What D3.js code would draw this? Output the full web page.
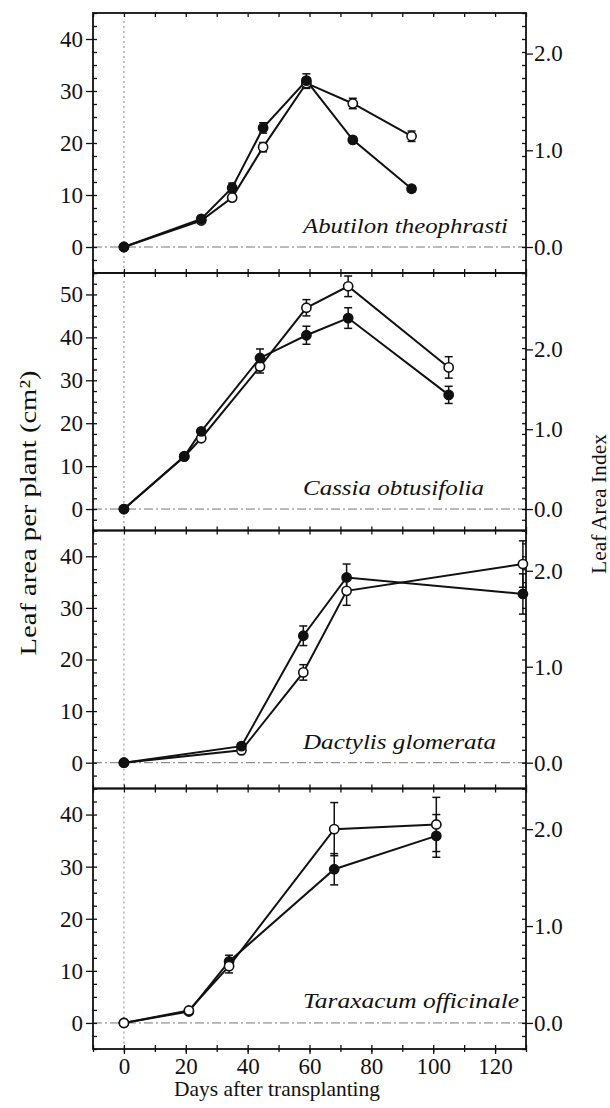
<!DOCTYPE html>
<html><head><meta charset="utf-8">
<script src="https://cdn.jsdelivr.net/npm/d3@7"></script>
<style>
body{margin:0;background:#fff}
text{font-family:"Liberation Serif","Times New Roman",serif;fill:#111}
</style>
</head><body>
<svg id="c" width="610" height="1108"></svg>
<script>
// ---------- data ----------
const species = ["Abutilon theophrasti","Cassia obtusifolia","Dactylis glomerata","Taraxacum officinale"];
const xTicks = [0,20,40,60,80,100,120];
const xLabel = "Days after transplanting";
const yLabelLeft = "Leaf area per plant (cm²)";
const yLabelRight = "Leaf Area Index";
const laiTicks = [0,1,2];
const laiFactor = 18.6; // leaf area units per 1.0 LAI

const abutilonDays      = [0,25,35,45,59,74,93];
const abutilonClosed    = [0,5.4,11.4,22.9,32.0,20.6,11.2];
const abutilonClosedErr = [0,0.5,0.9,1.0,1.3,0.6,0.6];
const abutilonOpen      = [0,5.1,9.5,19.2,31.5,27.6,21.3];
const abutilonOpenErr   = [0,0.4,0.5,0.9,1.0,1.0,1.0];

const cassiaDays      = [0,19.5,25,44,59,72.5,105];
const cassiaClosed    = [0,12.3,18.1,35.2,40.5,44.5,26.6];
const cassiaClosedErr = [0,0.5,0.6,2.1,2.1,2.4,2.0];
const cassiaOpen      = [0,12.2,16.5,33.2,46.9,51.9,33.0];
const cassiaOpenErr   = [0,0.4,0.6,1.5,1.9,2.4,2.5];

const dactylisDays      = [0,38,58,72,129];
const dactylisClosed    = [0,3.2,24.6,35.9,32.7];
const dactylisClosedErr = [0,0.4,1.9,2.6,3.9];
const dactylisOpen      = [0,2.4,17.5,33.3,38.5];
const dactylisOpenErr   = [0,0.3,1.5,2.8,4.5];

const taraxacumDays      = [0,21,34,68,101];
const taraxacumClosed    = [0,2.2,11.8,29.5,35.9];
const taraxacumClosedErr = [0,0.3,1.2,3.0,4.1];
const taraxacumOpen      = [0,2.4,10.9,37.2,38.1];
const taraxacumOpenErr   = [0,0.3,1.3,5.1,5.2];

const yDomains = [[-5,45],[-5,55],[-5,45],[-5,45]];
const yMajorTicks = [[0,10,20,30,40],[0,10,20,30,40,50],[0,10,20,30,40],[0,10,20,30,40]];

// ---------- build ----------
const panels = [
  {days:abutilonDays, closed:abutilonClosed, ce:abutilonClosedErr, open:abutilonOpen, oe:abutilonOpenErr, openTop:false},
  {days:cassiaDays, closed:cassiaClosed, ce:cassiaClosedErr, open:cassiaOpen, oe:cassiaOpenErr, openTop:false},
  {days:dactylisDays, closed:dactylisClosed, ce:dactylisClosedErr, open:dactylisOpen, oe:dactylisOpenErr, openTop:false},
  {days:taraxacumDays, closed:taraxacumClosed, ce:taraxacumClosedErr, open:taraxacumOpen, oe:taraxacumOpenErr, openTop:true}
];
const edges = [13, 273, 530.5, 788.5, 1049];
const xL = 93, xR = 526;
const labelPos = [
  {y:233, len:205},{y:495, len:181},{y:749, len:193},{y:1008, len:216}
];

const svg = d3.select("#c");
const x = d3.scaleLinear().domain([-10,130]).range([xL,xR]);
const fs = 21, tfs = 23;

panels.forEach((p,i)=>{
  const top = edges[i], bot = edges[i+1];
  const y = d3.scaleLinear().domain(yDomains[i]).range([bot, top]);
  const yR = d3.scaleLinear().domain(yDomains[i].map(v=>v/laiFactor)).range([bot, top]);
  const g = svg.append("g");

  // reference lines
  g.append("line").attr("x1",xL).attr("x2",xR).attr("y1",y(0)).attr("y2",y(0))
    .attr("stroke","#777").attr("stroke-width",1).attr("stroke-dasharray","9,3,2,3");
  g.append("line").attr("x1",x(0)).attr("x2",x(0)).attr("y1",top+8).attr("y2",bot)
    .attr("stroke","#888").attr("stroke-width",1).attr("stroke-dasharray","2,3");

  // minor y ticks (every 2.5)
  const minorY = d3.range(yDomains[i][0], yDomains[i][1]+0.01, 2.5);
  const axMinL = g.append("g").attr("transform",`translate(${xL},0)`)
    .call(d3.axisRight(y).tickValues(minorY).tickSize(4).tickFormat(""));
  const axMinR = g.append("g").attr("transform",`translate(${xR},0)`)
    .call(d3.axisLeft(y).tickValues(minorY).tickSize(4).tickFormat(""));
  // major left
  const axL = g.append("g").attr("transform",`translate(${xL},0)`)
    .call(d3.axisLeft(y).tickValues(yMajorTicks[i]).tickSize(7).tickPadding(3).tickFormat(d3.format("d")));
  // right LAI
  const axR = g.append("g").attr("transform",`translate(${xR},0)`)
    .call(d3.axisRight(yR).tickValues(laiTicks).tickSize(7).tickPadding(1).tickFormat(d3.format(".1f")));
  // x ticks on top / bottom edges (inward)
  const minorX = d3.range(-10,131,10);
  const axT = g.append("g").attr("transform",`translate(0,${top})`)
    .call(d3.axisBottom(x).tickValues(minorX).tickSize(4).tickFormat(""));
  const axB = g.append("g").attr("transform",`translate(0,${bot})`)
    .call(d3.axisTop(x).tickValues(minorX).tickSize(4).tickFormat(""));
  const axes = [axMinL,axMinR,axL,axR,axT,axB];
  if(i===panels.length-1){
    const axX = g.append("g").attr("transform",`translate(0,${bot})`)
      .call(d3.axisBottom(x).tickValues(xTicks).tickSize(5).tickPadding(4).tickFormat(d3.format("d")));
    const axX2 = g.append("g").attr("transform",`translate(0,${bot})`)
      .call(d3.axisBottom(x).tickValues(minorX).tickSize(3).tickFormat(""));
    axes.push(axX, axX2);
  }
  axes.forEach(a=>{
    a.select(".domain").remove();
    a.selectAll("line").attr("stroke","#111").attr("stroke-width",1.3);
    a.selectAll("text").attr("font-size",tfs).attr("fill","#111");
  });

  // frame
  g.append("rect").attr("x",xL).attr("y",top).attr("width",xR-xL).attr("height",bot-top)
    .attr("fill","none").attr("stroke","#111").attr("stroke-width",1.8);

  // series
  const mk = (vals, errs) => p.days.map((d,k)=>({d, v:vals[k], e:errs[k]}));
  const closed = mk(p.closed, p.ce), open = mk(p.open, p.oe);
  const line = d3.line().x(d=>x(d.d)).y(d=>y(d.v));
  const order = p.openTop ? [["c",closed],["o",open]] : [["o",open],["c",closed]];
  order.forEach(([t,data])=>{
    g.append("path").datum(data).attr("d",line).attr("fill","none")
      .attr("stroke","#111").attr("stroke-width",2);
  });
  order.forEach(([t,data])=>{
    const eb = g.append("g").attr("stroke","#111").attr("stroke-width",1.5);
    data.filter(d=>d.e>0).forEach(d=>{
      eb.append("line").attr("x1",x(d.d)).attr("x2",x(d.d)).attr("y1",y(d.v-d.e)).attr("y2",y(d.v+d.e));
      [d.v-d.e,d.v+d.e].forEach(v=>eb.append("line").attr("x1",x(d.d)-4).attr("x2",x(d.d)+4).attr("y1",y(v)).attr("y2",y(v)));
    });
  });
  order.forEach(([t,data])=>{
    g.append("g").selectAll("circle").data(data).join("circle")
      .attr("cx",d=>x(d.d)).attr("cy",d=>y(d.v)).attr("r",4.6)
      .attr("fill", t==="c" ? "#111" : "#fff").attr("stroke","#111").attr("stroke-width",1.6);
  });

  // species label
  g.append("text").attr("x",303).attr("y",labelPos[i].y).attr("font-size",fs)
    .attr("font-style","italic").attr("textLength",labelPos[i].len).attr("lengthAdjust","spacingAndGlyphs")
    .text(species[i]);
});

// axis titles
svg.append("text").attr("x",277).attr("y",1096).attr("text-anchor","middle").attr("font-size",fs)
  .attr("textLength",206).attr("lengthAdjust","spacingAndGlyphs").text(xLabel);
svg.append("text").attr("transform","translate(36,513) rotate(-90)").attr("text-anchor","middle")
  .attr("font-size",23).attr("textLength",285).attr("lengthAdjust","spacingAndGlyphs").text(yLabelLeft);
svg.append("text").attr("transform","translate(606,504) rotate(-90)").attr("text-anchor","middle")
  .attr("font-size",fs).attr("textLength",140).attr("lengthAdjust","spacingAndGlyphs").text(yLabelRight);
</script>
</body></html>
